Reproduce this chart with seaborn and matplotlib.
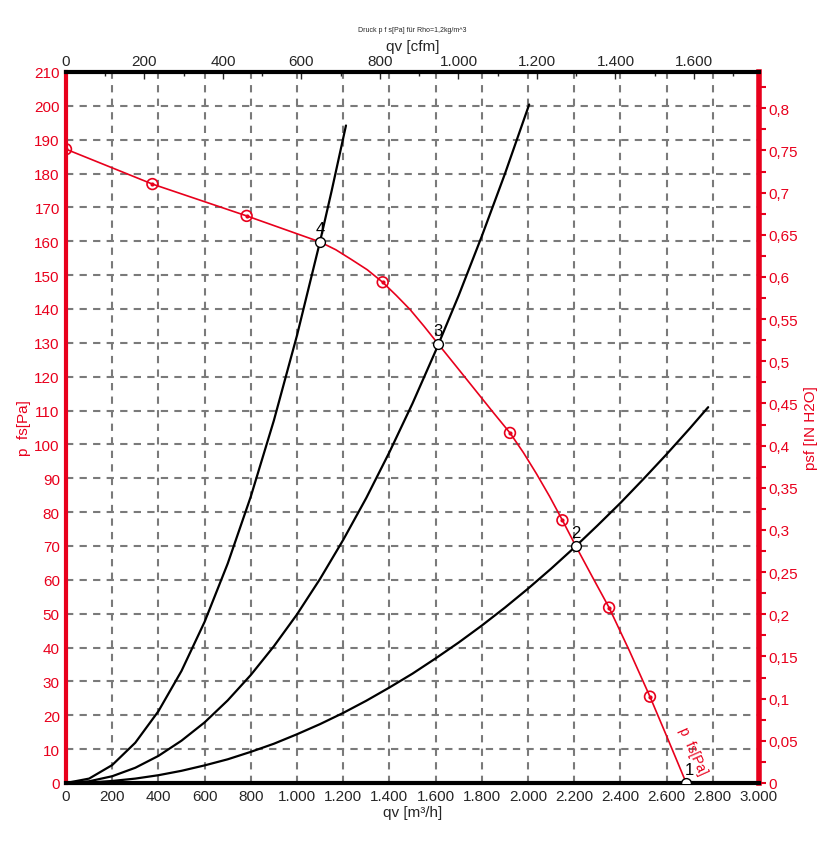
import numpy as np
import pandas as pd
import matplotlib
matplotlib.use("Agg")
import matplotlib.pyplot as plt
from matplotlib.ticker import MultipleLocator, FuncFormatter
import seaborn as sns

# fan curve p_fs [Pa] over qv [m3/h]
fan_q = [0, 374, 782, 1100, 1168, 1236, 1304, 1371, 1430, 1490, 1550, 1612,
         1690, 1770, 1850, 1922, 1980, 2037, 2093, 2149, 2206, 2280, 2351,
         2440, 2528, 2606, 2685]
fan_p = [187.2, 176.9, 167.5, 159.8, 157.5, 154.6, 151.6, 147.9, 144.0, 139.8,
         134.9, 129.6, 123.0, 116.2, 109.4, 103.4, 97.6, 91.3, 84.7, 77.6,
         70.1, 60.7, 51.8, 38.9, 25.5, 12.9, 0.0]
marker_q = [0, 374, 782, 1371, 1922, 2149, 2351, 2528]
marker_p = [187.2, 176.9, 167.5, 147.9, 103.4, 77.6, 51.8, 25.5]

# system curves
sysA_q = [0, 100, 200, 300, 400, 500, 600, 700, 800, 900, 1000, 1100, 1150, 1212]
sysA_p = [0, 1.3, 5.3, 11.9, 21.2, 33.1, 47.6, 64.8, 84.6, 107.1, 132.2, 160.0,
          174.9, 194.2]
sysB_q = [0, 100, 200, 300, 400, 500, 600, 700, 800, 900, 1000, 1100, 1200, 1300,
          1400, 1500, 1600, 1700, 1800, 1900, 2005]
sysB_p = [0, 0.5, 2.0, 4.5, 8.0, 12.5, 17.9, 24.4, 31.9, 40.4, 49.8, 60.3, 71.8,
          84.2, 97.7, 112.1, 127.6, 144.0, 161.5, 179.9, 200.4]
sysC_q = [0, 100, 200, 300, 400, 500, 600, 700, 800, 900, 1000, 1100, 1200, 1300,
          1400, 1500, 1600, 1700, 1800, 1900, 2000, 2100, 2200, 2300, 2400, 2500,
          2600, 2700, 2780]
sysC_p = [0, 0.1, 0.6, 1.3, 2.3, 3.6, 5.2, 7.0, 9.2, 11.6, 14.4, 17.4, 20.7, 24.3,
          28.2, 32.3, 36.8, 41.5, 46.5, 51.8, 57.4, 63.3, 69.5, 76.0, 82.7, 89.8,
          97.1, 104.7, 111.0]

# operating points
op_labels = ["1", "2", "3", "4"]
op_q = [2685, 2208, 1612, 1100]
op_p = [0.0, 70.0, 129.6, 159.8]

RED = "#e8001c"
PA_PER_INH2O = 249.089
M3H_PER_CFM = 1.699

sns.set_style("white")
plt.rcParams["font.family"] = ["Liberation Sans", "DejaVu Sans"]

fig = plt.figure(figsize=(8.26, 8.54), dpi=100)
ax = fig.add_axes([66 / 826, 1 - 784 / 854, 693 / 826, 711 / 854])

ax.grid(True, color="#7a7a7a", linestyle=(0, (3.5, 3)), linewidth=1.5)
ax.set_axisbelow(True)

for q, p in [(sysA_q, sysA_p), (sysB_q, sysB_p), (sysC_q, sysC_p)]:
    sns.lineplot(x=q, y=p, color="black", linewidth=1.6, ax=ax, sort=False,
                 estimator=None)

sns.lineplot(x=fan_q, y=fan_p, color=RED, linewidth=1.2, ax=ax, sort=False,
             estimator=None)
ax.scatter(marker_q, marker_p, s=60, facecolors="none", edgecolors=RED,
           linewidths=1.2, zorder=4)
ax.scatter(marker_q, marker_p, s=4, color=RED, zorder=4)
ax.scatter(op_q, op_p, s=50, facecolors="white", edgecolors="black",
           linewidths=1.0, zorder=5)
for lab, q, p in zip(op_labels, op_q, op_p):
    dx = 15 if lab == "1" else 0
    ax.text(q + dx, p + 1.8, lab, fontsize=12, ha="center", va="bottom",
            color="black", zorder=6)

ax.text(2712, 9.5, "p  fs[Pa]", color=RED, fontsize=10, rotation=-66,
        ha="center", va="center", rotation_mode="anchor")

ax.set_xlim(0, 3000)
ax.set_ylim(0, 210)

def de_fmt(v, pos=None):
    v = round(v, 3)
    if abs(v - round(v)) < 1e-9:
        s = f"{int(round(v)):,}".replace(",", ".")
    else:
        s = f"{v:g}".replace(".", ",")
    return s

ax.xaxis.set_major_locator(MultipleLocator(200))
ax.xaxis.set_minor_locator(MultipleLocator(50))
ax.yaxis.set_major_locator(MultipleLocator(10))
ax.yaxis.set_minor_locator(MultipleLocator(2))
ax.xaxis.set_major_formatter(FuncFormatter(de_fmt))
ax.yaxis.set_major_formatter(FuncFormatter(de_fmt))
ax.tick_params(axis="x", which="major", direction="in", length=5, width=1,
               color="black", labelsize=11, pad=4)
ax.tick_params(axis="x", which="minor", direction="in", length=3, width=1,
               color="black")
ax.tick_params(axis="y", which="major", direction="inout", length=7, width=1.5,
               color=RED, labelcolor=RED, labelsize=11, pad=1)
ax.tick_params(axis="y", which="minor", direction="inout", length=5, width=1.5,
               color=RED)

for side in ["bottom", "top"]:
    ax.spines[side].set_color("black")
    ax.spines[side].set_linewidth(3)
ax.spines["left"].set_color(RED)
ax.spines["left"].set_linewidth(3)
ax.spines["right"].set_color(RED)
ax.spines["right"].set_linewidth(4)

ax.set_xlabel("qv [m³/h]", fontsize=11, labelpad=2)
ax.set_ylabel("p  fs[Pa]", fontsize=11, color=RED, labelpad=2)

# top axis in cfm
top = ax.secondary_xaxis("top", functions=(lambda x: x / M3H_PER_CFM,
                                           lambda x: x * M3H_PER_CFM))
top.xaxis.set_major_locator(MultipleLocator(200))
top.xaxis.set_minor_locator(MultipleLocator(100))
top.xaxis.set_major_formatter(FuncFormatter(de_fmt))
top.tick_params(axis="x", which="major", direction="in", length=5, width=1,
                labelsize=11, pad=3)
top.tick_params(axis="x", which="minor", direction="in", length=3, width=1)
top.spines["top"].set_visible(False)
top.set_xlabel("qv [cfm]", fontsize=11, labelpad=3)

# right axis in inch H2O
right = ax.secondary_yaxis("right", functions=(lambda p: p / PA_PER_INH2O,
                                               lambda p: p * PA_PER_INH2O))
right.yaxis.set_major_locator(MultipleLocator(0.05))
right.yaxis.set_minor_locator(MultipleLocator(0.025))
right.yaxis.set_major_formatter(FuncFormatter(de_fmt))
right.tick_params(axis="y", which="major", direction="out", length=5, width=1.5,
                  color=RED, labelcolor=RED, labelsize=11, pad=2)
right.tick_params(axis="y", which="minor", direction="out", length=5, width=1.5,
                  color=RED)
right.spines["right"].set_visible(False)
right.set_ylabel("psf [IN H2O]", fontsize=11, color=RED, labelpad=4)

fig.text(412 / 826, 1 - 31 / 854, "Druck p f s[Pa] für Rho=1,2kg/m^3",
         fontsize=5, ha="center", va="center")

fig.savefig("out.png", dpi=100)
